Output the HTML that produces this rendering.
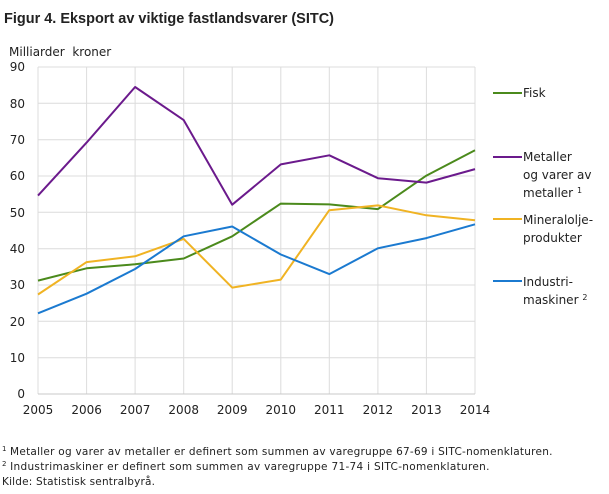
<!DOCTYPE html>
<html><head><meta charset="utf-8"><style>
body{margin:0;background:#fff;width:609px;height:489px;overflow:hidden}
svg text{font-family:"DejaVu Sans","Liberation Sans",sans-serif;fill:#222}
</style></head><body>
<svg width="609" height="489" viewBox="0 0 609 489">
<text x="4" y="23" style="font-size:15px;font-weight:bold;font-family:'Liberation Sans',sans-serif" fill="#111" textLength="330" lengthAdjust="spacingAndGlyphs">Figur 4. Eksport av viktige fastlandsvarer (SITC)</text>
<text x="9" y="56" font-size="12">Milliarder&#160; kroner</text>
<g stroke="#dcdcdc" stroke-width="1">
<line x1="38" x2="475" y1="67.0" y2="67.0"/><line x1="38" x2="475" y1="103.3" y2="103.3"/><line x1="38" x2="475" y1="139.7" y2="139.7"/><line x1="38" x2="475" y1="176.0" y2="176.0"/><line x1="38" x2="475" y1="212.3" y2="212.3"/><line x1="38" x2="475" y1="248.7" y2="248.7"/><line x1="38" x2="475" y1="285.0" y2="285.0"/><line x1="38" x2="475" y1="321.3" y2="321.3"/><line x1="38" x2="475" y1="357.7" y2="357.7"/>
<line y1="67" y2="394" x1="38" x2="38"/><line y1="67" y2="394" x1="86.6" x2="86.6"/><line y1="67" y2="394" x1="135.1" x2="135.1"/><line y1="67" y2="394" x1="183.7" x2="183.7"/><line y1="67" y2="394" x1="232.2" x2="232.2"/><line y1="67" y2="394" x1="280.8" x2="280.8"/><line y1="67" y2="394" x1="329.3" x2="329.3"/><line y1="67" y2="394" x1="377.9" x2="377.9"/><line y1="67" y2="394" x1="426.4" x2="426.4"/><line y1="67" y2="394" x1="475" x2="475"/>
</g>
<line x1="38" x2="475" y1="394" y2="394" stroke="#c8c8c8"/>
<g font-size="12" text-anchor="end">
<text x="25" y="71">90</text><text x="25" y="108">80</text><text x="25" y="144">70</text><text x="25" y="180">60</text><text x="25" y="217">50</text><text x="25" y="253">40</text><text x="25" y="289">30</text><text x="25" y="326">20</text><text x="25" y="362">10</text><text x="25" y="398">0</text>
</g>
<g font-size="12" text-anchor="middle">
<text x="38" y="414">2005</text><text x="86.6" y="414">2006</text><text x="135.1" y="414">2007</text><text x="183.7" y="414">2008</text><text x="232.2" y="414">2009</text><text x="280.8" y="414">2010</text><text x="329.3" y="414">2011</text><text x="377.9" y="414">2012</text><text x="426.4" y="414">2013</text><text x="475" y="414">2014</text>
</g>
<g fill="none" stroke-width="2" stroke-linejoin="round">
<polyline stroke="#4b8a1c" points="38,280.6 86.6,268.3 135.1,264.3 183.7,258.5 232.2,236.3 280.8,203.6 329.3,204.4 377.9,209.1 426.4,175.6 475,150.2"/>
<polyline stroke="#6b1a8c" points="38,195.6 86.6,142.6 135.1,87 183.7,120.1 232.2,204.7 280.8,164.4 329.3,155.3 377.9,178.2 426.4,182.6 475,169.1"/>
<polyline stroke="#f0b323" points="38,294.5 86.6,262.1 135.1,256.3 183.7,238.9 232.2,287.6 280.8,279.6 329.3,210.2 377.9,205.4 426.4,215.3 475,220.3"/>
<polyline stroke="#1b7ad0" points="38,313.3 86.6,293.7 135.1,269 183.7,236.3 232.2,226.5 280.8,254.5 329.3,274.1 377.9,248.3 426.4,238.1 475,224.3"/>
<line x1="493" x2="522" y1="93" y2="93" stroke="#4b8a1c"/>
<line x1="493" x2="522" y1="157" y2="157" stroke="#6b1a8c"/>
<line x1="493" x2="522" y1="219" y2="219" stroke="#f0b323"/>
<line x1="493" x2="522" y1="281" y2="281" stroke="#1b7ad0"/>
</g>
<g font-size="12">
<text x="523" y="97">Fisk</text>
<text x="523" y="161">Metaller</text><text x="523" y="179">og varer av</text><text x="523" y="197">metaller <tspan font-size="8" dy="-4">1</tspan></text>
<text x="523" y="224">Mineralolje-</text><text x="523" y="242">produkter</text>
<text x="523" y="286">Industri-</text><text x="523" y="304">maskiner <tspan font-size="8" dy="-4">2</tspan></text>
</g>
<g font-size="10.5">
<text x="2" y="455"><tspan font-size="7" dy="-4">1</tspan><tspan dy="4" textLength="546"> Metaller og varer av metaller er definert som summen av varegruppe 67-69 i SITC-nomenklaturen.</tspan></text>
<text x="2" y="470"><tspan font-size="7" dy="-4">2</tspan><tspan dy="4" textLength="483"> Industrimaskiner er definert som summen av varegruppe 71-74 i SITC-nomenklaturen.</tspan></text>
<text x="2" y="485" textLength="153">Kilde: Statistisk sentralbyrå.</text>
</g>
</svg>
</body></html>
